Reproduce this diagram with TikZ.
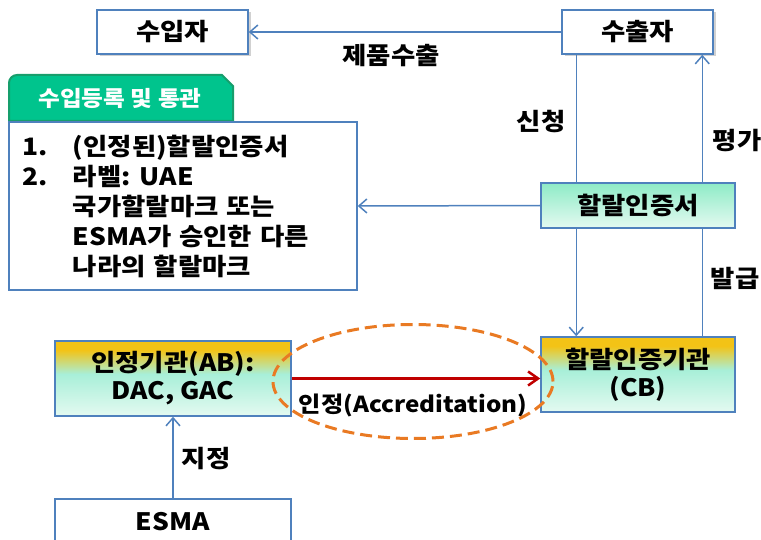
\documentclass[tikz,border=0pt]{standalone}
\usepackage{fontspec}
\setmainfont{Noto Sans CJK KR}[FakeStretch=1.1]
\usetikzlibrary{arrows.meta,shadows,shapes.geometric,calc}
\definecolor{lblue}{HTML}{4F81BD}
\definecolor{gold}{HTML}{F3C316}
\definecolor{mint}{HTML}{A8EFD8}
\definecolor{pale}{HTML}{E4FAF1}
\definecolor{mintT}{HTML}{8EEBC6}
\definecolor{tabg}{HTML}{00C48D}
\definecolor{tabb}{HTML}{179E6C}
\definecolor{accred}{HTML}{C00000}
\definecolor{ring}{HTML}{E97A23}
\pgfdeclareverticalshading{goldmint}{100bp}{color(0bp)=(pale); color(25bp)=(pale); color(53bp)=(mint); color(69bp)=(gold); color(100bp)=(gold)}
\pgfdeclareverticalshading{mintfade}{100bp}{color(0bp)=(pale); color(25bp)=(pale); color(75bp)=(mintT); color(100bp)=(mintT)}
\begin{document}
\begin{tikzpicture}[x=1pt,y=-1pt,
  every node/.style={font=\bfseries\fontsize{24}{30}\selectfont, inner sep=0pt},
  box/.style={draw=lblue, line width=1.5pt, align=center},
  conn/.style={draw=lblue, line width=1.5pt},
  tip/.style={-{Straight Barb[length=8pt,width=14pt]}},
  lbl/.style={font=\bfseries\fontsize{24}{30}\selectfont},
  shad/.style={drop shadow={shadow xshift=2.5pt, shadow yshift=-2.5pt, opacity=0.3, fill=black!60}}]
\useasboundingbox (0,0) rectangle (761,540);
\begin{scope}
\clip (0,0) rectangle (761,540);
% top boxes
\node[box, fill=white, shad, minimum width=151pt, minimum height=44pt] (imp) at (172.5,32) {수입자};
\node[box, fill=white, shad, minimum width=151pt, minimum height=44pt] (exp) at (637.5,32) {수출자};
\draw[conn,tip] (exp.west) -- (imp.east);
\node[lbl] (exportlbl) at (391,56) {제품수출};
% certification body
\node[box, shade, shading=goldmint, minimum width=194pt, minimum height=75pt] (cb) at (638,374.5) {할랄인증기관\\[-2pt](CB)};
% apply / evaluate-issue lines (drawn under the certificate box)
\coordinate (applytop) at ($(exp.south west)+(15,0)$);
\draw[conn,tip] (applytop) -- (applytop |- cb.north);
\coordinate (issuebot) at ($(cb.north west)+(162,0)$);
\draw[conn,tip] (issuebot) -- (issuebot |- exp.south);
\node[lbl] (applylbl) at (541,122) {신청};
\node[lbl] (evallbl) at (737,141) {평가};
\node[lbl] (issuelbl) at (735,278) {발급};
% certificate
\node[box, shade, shading=mintfade, minimum width=194pt, minimum height=45pt] (cert) at (638,205.5) {할랄인증서};
% import registration
\draw[fill=tabg, draw=tabb, line width=2pt] (9,121) -- (9,83) .. controls (9,78.6) and (12.6,75) .. (17,75) -- (222,75) -- (233,86) -- (233,121) -- cycle;
\node[text=white, font=\bfseries\fontsize{21.5}{24}\selectfont] (tabtxt) at (120,98) {수입등록 및 통관};
\node[box, fill=white, minimum width=348pt, minimum height=168pt, text width=322pt, align=left] (reg) at (183,206)
 {\makebox[51pt][l]{1.}(인정된)할랄인증서\\
  \makebox[51pt][l]{2.}라벨:\hspace{-3pt} UAE\\
  \hspace*{51pt}국가할랄마크 또는\\
  \hspace*{51pt}ESMA가 승인한 다른\\
  \hspace*{51pt}나라의 할랄마크};
\draw[conn,tip] (cert.west) -- (reg.east);
% accreditation body
\node[box, shade, shading=goldmint, minimum width=236pt, minimum height=75pt] (ab) at (173,378.5) {인정기관(AB):\\[-2pt]DAC, GAC};
\draw[accred, line width=2.5pt, -{Straight Barb[length=10pt,width=14pt]}] (ab.east) -- (ab.east -| cb.west);
\node[font=\bfseries\fontsize{22}{26}\selectfont] (acclbl) at (413,405) {인정(Accreditation)};
% ESMA
\node[box, fill=white, minimum width=236pt, minimum height=46pt, anchor=north] (esma) at (173,498) {ESMA};
\draw[conn,tip] (esma.north) -- (ab.south);
\node[lbl] (designlbl) at (206,459) {지정};
% highlight ring
\node[draw=ring, line width=3pt, dash pattern=on 12pt off 6pt, ellipse, minimum width=280pt, minimum height=114pt] (ring) at (413,381.5) {};
\end{scope}
\end{tikzpicture}
\end{document}
